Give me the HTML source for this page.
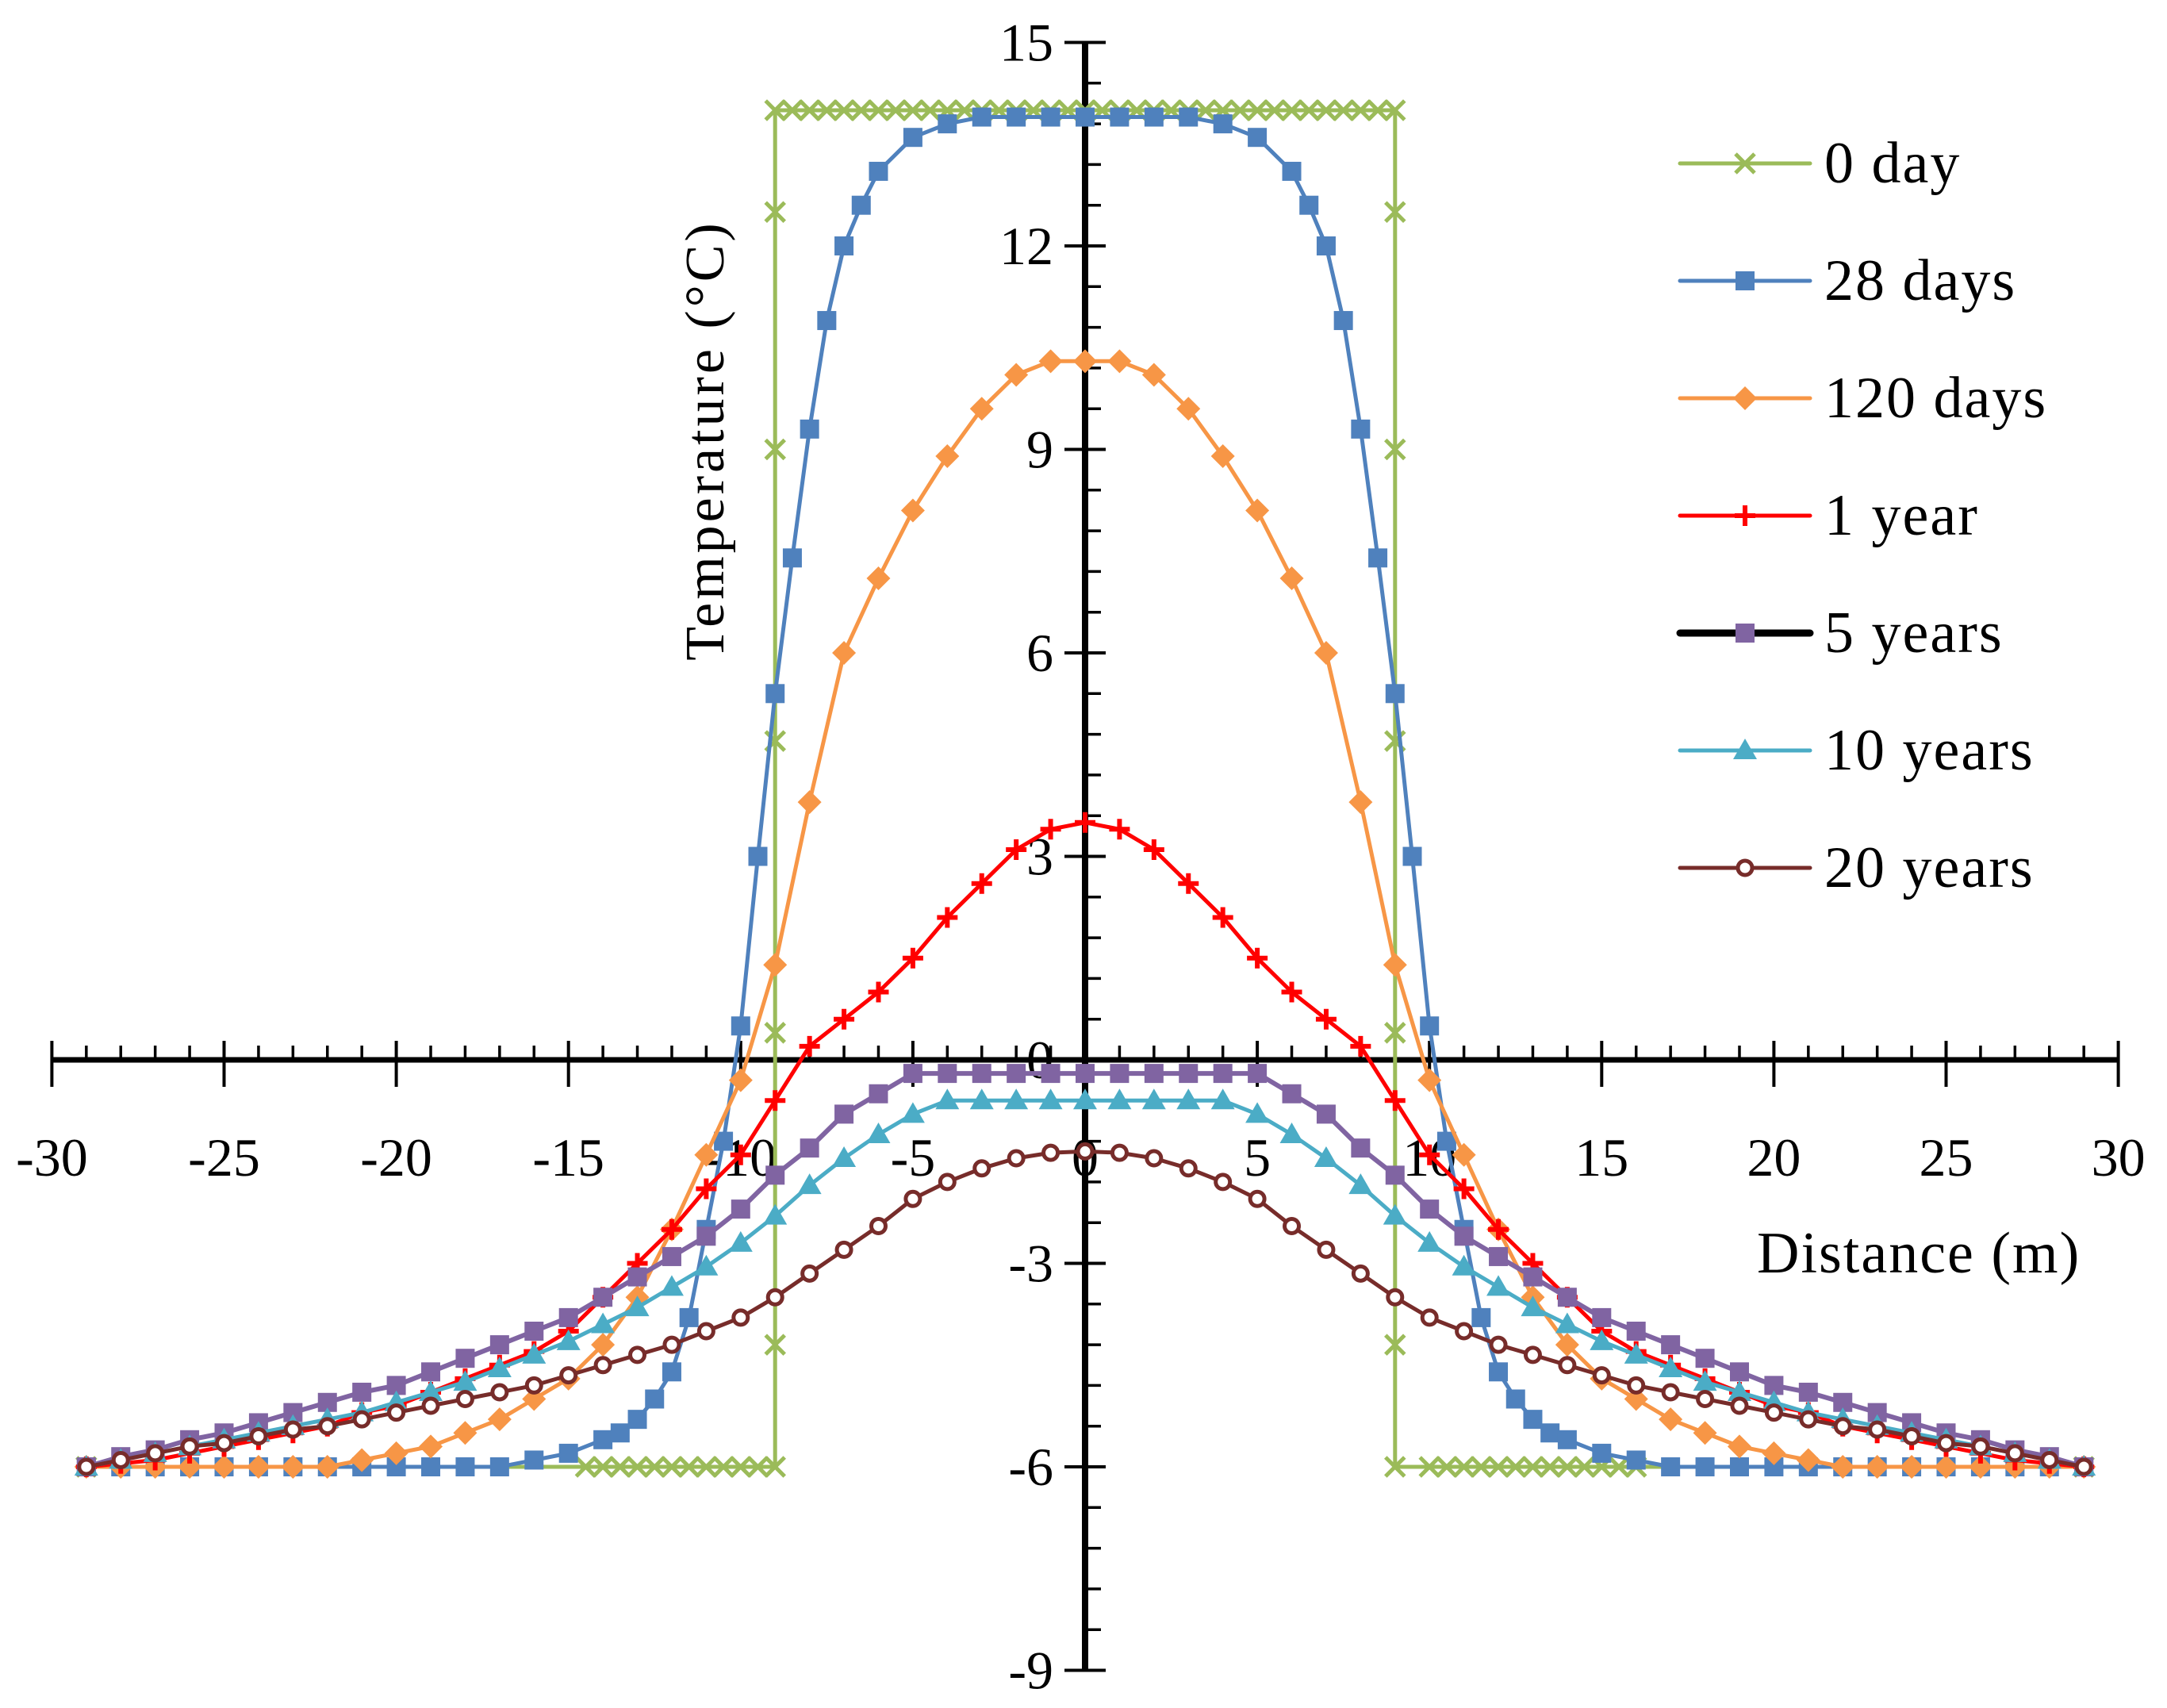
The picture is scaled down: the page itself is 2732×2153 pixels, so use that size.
<!DOCTYPE html>
<html><head><meta charset="utf-8"><style>
html,body{margin:0;padding:0;background:#fff;}
svg{display:block;}
text{font-family:"Liberation Serif",serif;fill:#000;}
</style></head><body>
<svg id="chart" width="2732" height="2153" viewBox="0 0 2732 2153" xmlns="http://www.w3.org/2000/svg">
<g id="axes"></g>
<g id="series"></g>
<g id="legend"></g>
<text transform="translate(912,555) rotate(-90)" text-anchor="middle" font-size="70" letter-spacing="4">Temperature (°C)</text>
<text x="2215" y="1604" font-size="74" letter-spacing="2">Distance (m)</text>
</svg>
<script>
// ---- data ----
const xTicks = [-30,-25,-20,-15,-10,-5,0,5,10,15,20,25,30];
const yTicks = [15,12,9,6,3,0,-3,-6,-9];
const seriesNames = ["0 day","28 days","120 days","1 year","5 years","10 years","20 years"];
const day0X = [-29,-14.5,-14,-13.5,-13,-12.5,-12,-11.5,-11,-10.5,-10,-9.5,-9,-9,-9,-9,-9,-9,-9,-8.5,-8,-7.5,-7,-6.5,-6,-5.5,-5,-4.5,-4,-3.5,-3,-2.5,-2,-1.5,-1,-0.5,0,0.5,1,1.5,2,2.5,3,3.5,4,4.5,5,5.5,6,6.5,7,7.5,8,8.5,9,9,9,9,9,9,9,10,10.5,11,11.5,12,12.5,13,13.5,14,14.5,15,15.5,16,29];
const day0Y = [-6,-6,-6,-6,-6,-6,-6,-6,-6,-6,-6,-6,-6,-4.2,0.4,4.7,9,12.5,14,14,14,14,14,14,14,14,14,14,14,14,14,14,14,14,14,14,14,14,14,14,14,14,14,14,14,14,14,14,14,14,14,14,14,14,14,12.5,9,4.7,0.4,-4.2,-6,-6,-6,-6,-6,-6,-6,-6,-6,-6,-6,-6,-6,-6,-6];
const d28X = [0,1,2,3,4,5,6,6.5,7,7.5,8,8.5,9,9.5,10,10.5,11,11.5,12,12.5,13,13.5,14,15,16,17,18,19,20,21,22,23,24,25,26,27,28,29];
const d28Y = [13.9,13.9,13.9,13.9,13.8,13.6,13.1,12.6,12.0,10.9,9.3,7.4,5.4,3.0,0.5,-1.2,-2.5,-3.8,-4.6,-5.0,-5.3,-5.5,-5.6,-5.8,-5.9,-6,-6,-6,-6,-6,-6,-6,-6,-6,-6,-6,-6,-6];
const distX = [0,1,2,3,4,5,6,7,8,9,10,11,12,13,14,15,16,17,18,19,20,21,22,23,24,25,26,27,28,29];
const d120Y = [10.3,10.3,10.1,9.6,8.9,8.1,7.1,6.0,3.8,1.4,-0.3,-1.4,-2.5,-3.5,-4.2,-4.7,-5.0,-5.3,-5.5,-5.7,-5.8,-5.9,-6,-6,-6,-6,-6,-6,-6,-6];
const y1Y = [3.5,3.4,3.1,2.6,2.1,1.5,1.0,0.6,0.2,-0.6,-1.4,-1.9,-2.5,-3.0,-3.5,-4.0,-4.3,-4.5,-4.7,-4.9,-5.1,-5.2,-5.4,-5.5,-5.6,-5.7,-5.8,-5.9,-5.95,-6];
const y5Y = [-0.2,-0.2,-0.2,-0.2,-0.2,-0.2,-0.5,-0.8,-1.3,-1.7,-2.2,-2.6,-2.9,-3.2,-3.5,-3.8,-4.0,-4.2,-4.4,-4.6,-4.8,-4.9,-5.05,-5.2,-5.35,-5.5,-5.6,-5.75,-5.85,-6];
const y10Y = [-0.6,-0.6,-0.6,-0.6,-0.6,-0.8,-1.1,-1.45,-1.85,-2.3,-2.7,-3.05,-3.35,-3.65,-3.9,-4.15,-4.35,-4.55,-4.75,-4.9,-5.05,-5.2,-5.3,-5.4,-5.5,-5.6,-5.7,-5.8,-5.9,-6];
const y20Y = [-1.35,-1.37,-1.45,-1.6,-1.8,-2.05,-2.45,-2.8,-3.15,-3.5,-3.8,-4.0,-4.2,-4.35,-4.5,-4.65,-4.8,-4.9,-5.0,-5.1,-5.2,-5.3,-5.4,-5.45,-5.55,-5.65,-5.7,-5.8,-5.9,-6];

// ---- scales ----
const X0 = 1368, XS = 43.42;
const Y0 = 1336, YS = 85.5;
const sx = v => X0 + v*XS;
const sy = v => Y0 - v*YS;
const NS = "http://www.w3.org/2000/svg";
function mk(tag, attrs, parent){ const e=document.createElementNS(NS,tag); for(const k in attrs) e.setAttribute(k,attrs[k]); parent.appendChild(e); return e; }

const ax = document.getElementById('axes');
const xl = mk('line',{x1:sx(-30),x2:sx(30),y1:Y0,y2:Y0,stroke:'#000','stroke-width':7},ax);


const yl = mk('line',{x1:X0,x2:X0,y1:sy(15),y2:sy(-9),stroke:'#000','stroke-width':8},ax);


for(let v=-30; v<=30; v++){
  if(v%5===0) mk('line',{x1:sx(v),x2:sx(v),y1:Y0-24,y2:Y0+34,stroke:'#000','stroke-width':4},ax);
  else mk('line',{x1:sx(v),x2:sx(v),y1:Y0-18,y2:Y0,stroke:'#000','stroke-width':3.5},ax);
}
for(let i=0;i<=40;i++){
  const v = 15 - i*0.6;
  if(i%5===0) mk('line',{x1:X0-26,x2:X0+26,y1:sy(v),y2:sy(v),stroke:'#000','stroke-width':4},ax);
  else mk('line',{x1:X0,x2:X0+20,y1:sy(v),y2:sy(v),stroke:'#000','stroke-width':3.5},ax);
}
xTicks.forEach(v=>{
  const t = mk('text',{x:sx(v),y:Y0+146,'font-size':68,'text-anchor':'middle'},ax);
  t.textContent = v;
  
  
});
yTicks.forEach(v=>{
  const t = mk('text',{x:X0-40,y:sy(v)+23,'font-size':68,'text-anchor':'end'},ax);
  t.textContent = v;
  
  
});

function marker(type, x, y, color, g){
  if(type==='x'){ const d=12; mk('path',{d:`M${x-d},${y-d}L${x+d},${y+d}M${x-d},${y+d}L${x+d},${y-d}`,stroke:color,'stroke-width':5,fill:'none'},g); }
  else if(type==='sq'){ mk('rect',{x:x-12,y:y-12,width:24,height:24,fill:color},g); }
  else if(type==='dia'){ mk('path',{d:`M${x},${y-15}L${x+15},${y}L${x},${y+15}L${x-15},${y}Z`,fill:color},g); }
  else if(type==='plus'){ mk('path',{d:`M${x-13},${y}L${x+13},${y}M${x},${y-13}L${x},${y+13}`,stroke:color,'stroke-width':6},g); }
  else if(type==='tri'){ mk('path',{d:`M${x},${y-15}L${x+15},${y+11}L${x-15},${y+11}Z`,fill:color},g); }
  else if(type==='circ'){ mk('circle',{cx:x,cy:y,r:9,fill:'#fff',stroke:color,'stroke-width':5},g); }
}
const sg = document.getElementById('series');
function drawSeries(name, xs, ys, color, lineColor, lw, mtype){
  const g = mk('g',{},sg);
  
  
  const pts = xs.map((x,i)=>sx(x).toFixed(1)+','+sy(ys[i]).toFixed(1)).join(' ');
  mk('polyline',{points:pts,fill:'none',stroke:lineColor,'stroke-width':lw,'stroke-linejoin':'round'},g);
  xs.forEach((x,i)=>marker(mtype,sx(x),sy(ys[i]),color,g));
}
function mirrored(xs, ys){
  const X=[],Y=[];
  for(let i=xs.length-1;i>0;i--){X.push(-xs[i]);Y.push(ys[i]);}
  for(let i=0;i<xs.length;i++){X.push(xs[i]);Y.push(ys[i]);}
  return [X,Y];
}
const COLORS = ['#9BBB59','#4F81BD','#F79646','#FF0000','#8064A2','#4BACC6','#772C2A'];
drawSeries('series-0-day', day0X, day0Y, COLORS[0], COLORS[0], 5, 'x');
let m;
m = mirrored(d28X,d28Y);  drawSeries('series-28-days', m[0], m[1], COLORS[1], COLORS[1], 5, 'sq');
m = mirrored(distX,d120Y); drawSeries('series-120-days', m[0], m[1], COLORS[2], COLORS[2], 5, 'dia');
m = mirrored(distX,y1Y);  drawSeries('series-1-year', m[0], m[1], COLORS[3], COLORS[3], 5, 'plus');
m = mirrored(distX,y5Y);  drawSeries('series-5-years', m[0], m[1], COLORS[4], COLORS[4], 6, 'sq');
m = mirrored(distX,y10Y); drawSeries('series-10-years', m[0], m[1], COLORS[5], COLORS[5], 5, 'tri');
m = mirrored(distX,y20Y); drawSeries('series-20-years', m[0], m[1], COLORS[6], COLORS[6], 5, 'circ');

const lg = document.getElementById('legend');
const mtypes = ['x','sq','dia','plus','sq','tri','circ'];
const lineCols = ['#9BBB59','#4F81BD','#F79646','#FF0000','#000','#4BACC6','#772C2A'];
seriesNames.forEach((n,i)=>{
  const y = 206 + i*148;
  const g = mk('g',{},lg);
  
  
  mk('line',{x1:2118,x2:2282,y1:y,y2:y,stroke:lineCols[i],'stroke-width':i===4?9:5,'stroke-linecap':'round'},g);
  marker(mtypes[i],2200,y,COLORS[i],g);
  const t = mk('text',{x:2300,y:y+24,'font-size':74,'letter-spacing':2},g);
  t.textContent = n;
});
</script>
</body></html>
